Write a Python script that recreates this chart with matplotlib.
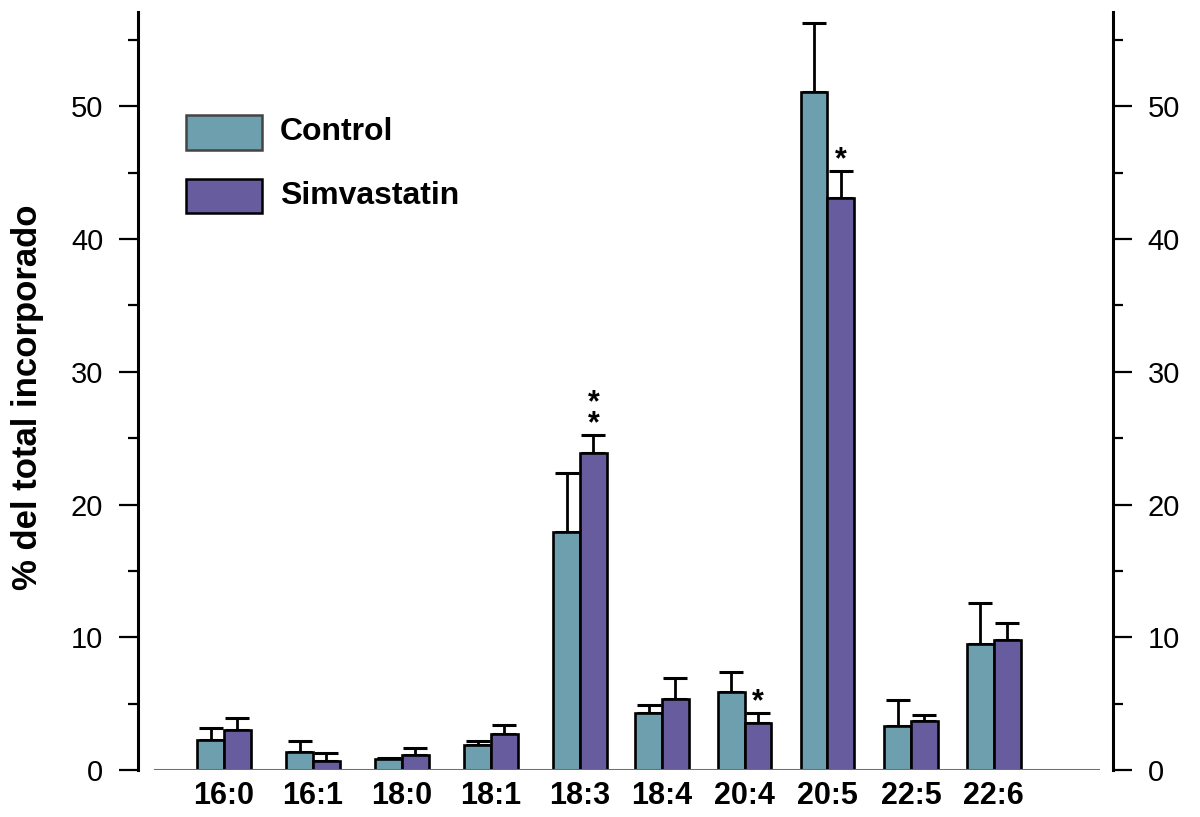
import matplotlib
matplotlib.use("Agg")
import matplotlib.pyplot as plt
from matplotlib.patches import Rectangle
import numpy as np

# ---- data ----
categories = ["16:0", "16:1", "18:0", "18:1", "18:3", "18:4", "20:4", "20:5", "22:5", "22:6"]
series_names = ["Control", "Simvastatin"]
control_mean = [2.26, 1.38, 0.80, 1.86, 17.9, 4.27, 5.86, 51.1, 3.32, 9.5]
control_err = [0.93, 0.83, 0.10, 0.32, 4.5, 0.63, 1.54, 5.2, 1.96, 3.1]
simva_mean = [3.01, 0.70, 1.10, 2.71, 23.87, 5.35, 3.57, 43.1, 3.72, 9.8]
simva_err = [0.89, 0.60, 0.58, 0.66, 1.33, 1.55, 0.75, 2.0, 0.42, 1.25]
simva_stars = [0, 0, 0, 0, 2, 0, 1, 1, 0, 0]
yticks_major = [0, 10, 20, 30, 40, 50]

# ---- layout ----
W, H = 1200, 817
group_pos = np.array([0, 1, 2, 3, 4, 4.92, 5.85, 6.78, 7.72, 8.65])
bw = 0.30
c_control = "#6e9fae"
c_simva = "#675d9e"

plt.rcParams["font.family"] = ["Liberation Sans", "DejaVu Sans"]
fig = plt.figure(figsize=(12, 8.17), dpi=100)
ax = fig.add_axes([138 / W, 1 - 770 / H, (1113 - 138) / W, (770 - 12) / H])

ax.bar(group_pos - bw / 2, control_mean, width=bw, color=c_control,
       edgecolor="black", linewidth=1.9, zorder=3)
ax.bar(group_pos + bw / 2, simva_mean, width=bw, color=c_simva,
       edgecolor="black", linewidth=1.9, zorder=3)
zeros = np.zeros(len(categories))
ax.errorbar(group_pos - bw / 2, control_mean, yerr=[zeros, control_err], fmt="none",
            ecolor="black", elinewidth=2.0, capsize=8.5, capthick=2.2, zorder=2)
ax.errorbar(group_pos + bw / 2, simva_mean, yerr=[zeros, simva_err], fmt="none",
            ecolor="black", elinewidth=2.0, capsize=8.5, capthick=2.2, zorder=2)

for i, n in enumerate(simva_stars):
    if n == 0:
        continue
    top = simva_mean[i] + simva_err[i]
    ax.annotate("\n".join(["*"] * n), xy=(group_pos[i] + bw / 2, top), xytext=(0, -3),
                textcoords="offset points", ha="center", va="bottom",
                fontsize=22, fontweight="bold", linespacing=0.62)

ax.set_xlim(-0.966, 9.989)
ax.set_ylim(0, 57.1)
ax.set_xticks(group_pos)
ax.set_xticklabels(categories, fontsize=22, fontweight="bold")
ax.tick_params(axis="x", length=0, pad=8)
ax.set_yticks(yticks_major)
ax.set_yticks([5, 15, 25, 35, 45, 55], minor=True)
ax.tick_params(axis="y", which="major", direction="out", length=14, width=1.6,
               labelsize=21, pad=11, left=True, right=True, labelleft=True, labelright=True)
ax.tick_params(axis="y", which="minor", direction="out", length=7.5, width=1.6,
               left=True, right=True)
for s in ["left", "right"]:
    ax.spines[s].set_linewidth(2.2)
ax.spines["top"].set_visible(False)
ax.spines["bottom"].set_visible(False)
ax.axhline(0, xmin=17 / 975, xmax=960 / 975, color="#6f6f6f", linewidth=2.2, zorder=4)

fig.text(28 / W, 1 - 397 / H, "% del total incorporado", rotation=90, ha="center",
         va="center", fontsize=25, fontweight="bold")

# legend
for (y0, y1), col, ec, name in [((115, 150), c_control, "#444444", series_names[0]),
                                ((179, 213), c_simva, "black", series_names[1])]:
    fig.patches.append(Rectangle((186 / W, 1 - y1 / H), 76 / W, (y1 - y0) / H,
                                 transform=fig.transFigure, facecolor=col,
                                 edgecolor=ec, linewidth=1.8))
    fig.text(280 / W, 1 - ((y0 + y1) / 2) / H, name, ha="left", va="center",
             fontsize=23, fontweight="bold")

fig.savefig("out.png", dpi=100)
